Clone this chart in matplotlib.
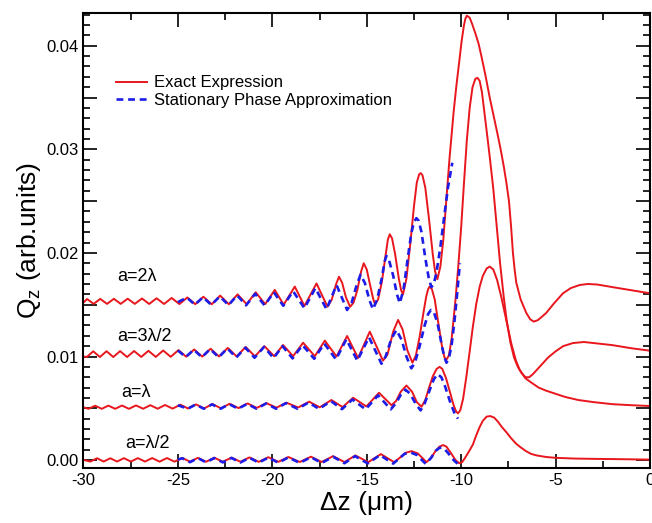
import numpy as np
import matplotlib
matplotlib.use('Agg')
import matplotlib.pyplot as plt
from matplotlib.ticker import MultipleLocator, FuncFormatter

plt.rcParams['font.family'] = ['Liberation Sans', 'DejaVu Sans']
plt.rcParams['mathtext.fontset'] = 'custom'
plt.rcParams['mathtext.rm'] = 'Liberation Sans'
plt.rcParams['mathtext.default'] = 'regular'
plt.rcParams['axes.unicode_minus'] = False

# (dz [um], Qz): exact expression (red)
exact_2lam = np.array([
    (-30.00, 0.01520), (-29.81, 0.01555), (-29.46, 0.01508), (-29.11, 0.01556),
    (-28.75, 0.01508), (-28.39, 0.01557), (-28.03, 0.01508), (-27.66, 0.01558),
    (-27.28, 0.01508), (-26.90, 0.01560), (-26.52, 0.01507), (-26.13, 0.01562),
    (-25.73, 0.01507), (-25.33, 0.01565), (-24.92, 0.01506), (-24.50, 0.01570),
    (-24.08, 0.01505), (-23.65, 0.01577), (-23.21, 0.01504), (-22.76, 0.01588),
    (-22.30, 0.01504), (-21.84, 0.01600), (-21.36, 0.01505), (-20.88, 0.01620),
    (-20.38, 0.01505), (-19.87, 0.01643), (-19.40, 0.01500), (-18.81, 0.01675),
    (-18.30, 0.01488), (-17.66, 0.01705), (-17.08, 0.01481), (-16.85, 0.01550),
    (-16.62, 0.01700), (-16.47, 0.01770), (-16.30, 0.01710), (-16.10, 0.01570),
    (-15.88, 0.01480), (-15.70, 0.01520), (-15.50, 0.01640), (-15.30, 0.01820),
    (-15.16, 0.01900), (-15.00, 0.01840), (-14.80, 0.01670), (-14.65, 0.01550),
    (-14.56, 0.01505), (-14.40, 0.01550), (-14.20, 0.01720), (-14.00, 0.01980),
    (-13.88, 0.02130), (-13.78, 0.02180), (-13.66, 0.02140), (-13.50, 0.01990),
    (-13.30, 0.01750), (-13.18, 0.01640), (-13.08, 0.01600), (-12.90, 0.01750),
    (-12.70, 0.02080), (-12.50, 0.02450), (-12.35, 0.02680), (-12.22, 0.02760),
    (-12.14, 0.02770), (-12.05, 0.02750), (-11.90, 0.02630), (-11.70, 0.02320),
    (-11.50, 0.01980), (-11.38, 0.01820), (-11.26, 0.01746), (-11.10, 0.01870),
    (-10.95, 0.02120), (-10.80, 0.02480), (-10.61, 0.02930), (-10.40, 0.03360),
    (-10.25, 0.03620), (-10.10, 0.03850), (-9.98, 0.04040), (-9.86, 0.04190),
    (-9.78, 0.04260), (-9.70, 0.04290), (-9.55, 0.04270), (-9.42, 0.04210),
    (-9.25, 0.04120), (-9.08, 0.04020), (-8.93, 0.03900), (-8.70, 0.03700),
    (-8.49, 0.03500), (-8.29, 0.03330), (-8.09, 0.03160), (-7.90, 0.02990),
    (-7.74, 0.02830), (-7.60, 0.02670), (-7.47, 0.02500), (-7.36, 0.02260),
    (-7.26, 0.02000), (-7.17, 0.01840), (-7.08, 0.01710), (-6.85, 0.01550),
    (-6.55, 0.01420), (-6.35, 0.01360), (-6.16, 0.01337), (-5.95, 0.01350),
    (-5.75, 0.01380), (-5.50, 0.01420), (-5.10, 0.01510), (-4.61, 0.01610),
    (-4.20, 0.01660), (-3.73, 0.01690), (-3.30, 0.01700), (-2.80, 0.01695),
    (-2.00, 0.01670), (-1.00, 0.01640), (0.00, 0.01610)])

exact_3lam2 = np.array([
    (-30.00, 0.01000), (-29.83, 0.00995), (-29.48, 0.01050), (-29.13, 0.00995),
    (-28.78, 0.01051), (-28.42, 0.00995), (-28.06, 0.01052), (-27.69, 0.00995),
    (-27.32, 0.01053), (-26.94, 0.00996), (-26.56, 0.01055), (-26.17, 0.00996),
    (-25.78, 0.01058), (-25.38, 0.00997), (-24.97, 0.01062), (-24.56, 0.00998),
    (-24.14, 0.01068), (-23.71, 0.00999), (-23.27, 0.01075), (-22.82, 0.01000),
    (-22.36, 0.01083), (-21.89, 0.01001), (-21.41, 0.01092), (-20.92, 0.01002),
    (-20.42, 0.01100), (-19.90, 0.01003), (-19.43, 0.01111), (-18.90, 0.01003),
    (-18.37, 0.01133), (-17.75, 0.01003), (-17.22, 0.01153), (-16.60, 0.01000),
    (-16.04, 0.01198), (-15.46, 0.00985), (-14.84, 0.01240), (-14.14, 0.00960),
    (-13.90, 0.01020), (-13.60, 0.01240), (-13.34, 0.01353), (-13.10, 0.01260),
    (-12.85, 0.01060), (-12.58, 0.00940), (-12.40, 0.01010), (-12.20, 0.01190),
    (-12.00, 0.01420), (-11.85, 0.01580), (-11.75, 0.01650), (-11.67, 0.01675),
    (-11.55, 0.01650), (-11.40, 0.01550), (-11.20, 0.01310), (-11.00, 0.01080),
    (-10.88, 0.00990), (-10.78, 0.00970), (-10.65, 0.01010), (-10.50, 0.01180),
    (-10.30, 0.01550), (-10.15, 0.01880), (-10.00, 0.02250), (-9.85, 0.02680),
    (-9.70, 0.03090), (-9.55, 0.03400), (-9.40, 0.03600), (-9.25, 0.03680),
    (-9.14, 0.03690), (-9.02, 0.03660), (-8.90, 0.03550), (-8.76, 0.03340),
    (-8.60, 0.03100), (-8.49, 0.02930), (-8.30, 0.02620), (-8.10, 0.02220),
    (-7.94, 0.01900), (-7.75, 0.01580), (-7.60, 0.01360), (-7.40, 0.01140),
    (-7.20, 0.00990), (-7.00, 0.00900), (-6.80, 0.00840), (-6.60, 0.00800),
    (-6.40, 0.00800), (-6.20, 0.00830), (-6.00, 0.00870), (-5.70, 0.00930),
    (-5.40, 0.00990), (-5.00, 0.01050), (-4.60, 0.01100), (-4.08, 0.01130),
    (-3.50, 0.01140), (-3.00, 0.01130), (-2.00, 0.01110), (-1.00, 0.01080),
    (0.00, 0.01056)])

exact_lam = np.array([
    (-30.00, 0.00510), (-29.73, 0.00495), (-29.38, 0.00525), (-29.03, 0.00495),
    (-28.68, 0.00526), (-28.32, 0.00495), (-27.96, 0.00527), (-27.59, 0.00495),
    (-27.22, 0.00528), (-26.84, 0.00496), (-26.46, 0.00530), (-26.07, 0.00496),
    (-25.68, 0.00532), (-25.28, 0.00497), (-24.87, 0.00535), (-24.46, 0.00498),
    (-24.04, 0.00538), (-23.61, 0.00499), (-23.17, 0.00541), (-22.72, 0.00500),
    (-22.26, 0.00544), (-21.79, 0.00502), (-21.31, 0.00547), (-20.82, 0.00504),
    (-20.31, 0.00550), (-19.78, 0.00506), (-19.25, 0.00554), (-18.63, 0.00508),
    (-18.05, 0.00564), (-17.49, 0.00510), (-16.87, 0.00580), (-16.28, 0.00512),
    (-15.72, 0.00602), (-15.02, 0.00518), (-14.35, 0.00650), (-13.69, 0.00530),
    (-13.45, 0.00570), (-13.20, 0.00660), (-12.90, 0.00720), (-12.60, 0.00660),
    (-12.35, 0.00560), (-12.10, 0.00515), (-11.90, 0.00580), (-11.70, 0.00700),
    (-11.50, 0.00810), (-11.30, 0.00880), (-11.14, 0.00900), (-11.00, 0.00880),
    (-10.80, 0.00790), (-10.60, 0.00660), (-10.40, 0.00530), (-10.27, 0.00470),
    (-10.17, 0.00451), (-10.05, 0.00480), (-9.90, 0.00590), (-9.73, 0.00800),
    (-9.55, 0.01050), (-9.38, 0.01290), (-9.20, 0.01510), (-9.02, 0.01675),
    (-8.85, 0.01780), (-8.65, 0.01850), (-8.49, 0.01868), (-8.30, 0.01840),
    (-8.10, 0.01740), (-7.87, 0.01570), (-7.60, 0.01340), (-7.34, 0.01120),
    (-7.10, 0.00960), (-6.90, 0.00870), (-6.60, 0.00790), (-6.30, 0.00750),
    (-5.90, 0.00700), (-5.50, 0.00670), (-5.00, 0.00640), (-4.50, 0.00610),
    (-3.80, 0.00580), (-3.00, 0.00560), (-2.00, 0.00540), (-1.00, 0.00530),
    (0.00, 0.00522)])

exact_lam2 = np.array([
    (-30.00, 0.00002), (-29.63, -0.00014), (-29.28, 0.00018), (-28.93, -0.00014),
    (-28.58, 0.00018), (-28.22, -0.00014), (-27.86, 0.00019), (-27.49, -0.00014),
    (-27.12, 0.00019), (-26.74, -0.00014), (-26.36, 0.00020), (-25.97, -0.00015),
    (-25.58, 0.00020), (-25.18, -0.00015), (-24.77, 0.00021), (-24.36, -0.00015),
    (-23.94, 0.00022), (-23.51, -0.00016), (-23.07, 0.00023), (-22.62, -0.00016),
    (-22.16, 0.00024), (-21.69, -0.00016), (-21.21, 0.00026), (-20.72, -0.00017),
    (-20.21, 0.00028), (-19.68, -0.00017), (-19.15, 0.00030), (-18.55, -0.00018),
    (-17.95, 0.00033), (-17.39, -0.00018), (-16.78, 0.00038), (-16.18, -0.00019),
    (-15.60, 0.00045), (-14.92, -0.00020), (-14.25, 0.00058), (-13.55, -0.00020),
    (-13.20, 0.00030), (-12.95, 0.00070), (-12.63, 0.00087), (-12.30, 0.00065),
    (-12.05, 0.00020), (-11.84, -0.00020), (-11.60, 0.00020), (-11.35, 0.00090),
    (-11.15, 0.00130), (-10.96, 0.00145), (-10.78, 0.00130), (-10.55, 0.00070),
    (-10.30, 0.00000), (-10.10, -0.00030), (-9.95, -0.00020), (-9.80, 0.00020),
    (-9.60, 0.00080), (-9.38, 0.00150), (-9.20, 0.00240), (-9.02, 0.00320),
    (-8.85, 0.00380), (-8.65, 0.00420), (-8.46, 0.00425), (-8.25, 0.00410),
    (-8.05, 0.00370), (-7.85, 0.00320), (-7.61, 0.00270), (-7.35, 0.00210),
    (-7.10, 0.00160), (-6.90, 0.00130), (-6.60, 0.00090), (-6.30, 0.00060),
    (-6.00, 0.00045), (-5.50, 0.00030), (-5.00, 0.00022), (-4.00, 0.00015),
    (-3.00, 0.00012), (-2.00, 0.00010), (0.00, 0.00005)])

# stationary phase approximation (blue dashed), only from -25 on
approx_2lam = np.array([
    (-25.00, 0.01525), (-24.52, 0.01568), (-24.10, 0.01500), (-23.67, 0.01572),
    (-23.23, 0.01498), (-22.78, 0.01580), (-22.32, 0.01496), (-21.86, 0.01590),
    (-21.39, 0.01494), (-20.91, 0.01605), (-20.41, 0.01494), (-19.92, 0.01620),
    (-19.42, 0.01490), (-18.90, 0.01630), (-18.30, 0.01466), (-17.72, 0.01660),
    (-17.13, 0.01456), (-16.60, 0.01690), (-16.04, 0.01449), (-15.80, 0.01520),
    (-15.55, 0.01680), (-15.33, 0.01790), (-15.10, 0.01710), (-14.85, 0.01540),
    (-14.67, 0.01456), (-14.45, 0.01550), (-14.20, 0.01760), (-14.05, 0.01920),
    (-13.96, 0.01970), (-13.85, 0.01950), (-13.60, 0.01780), (-13.40, 0.01600),
    (-13.25, 0.01514), (-13.05, 0.01650), (-12.85, 0.01920), (-12.65, 0.02180),
    (-12.50, 0.02300), (-12.37, 0.02335), (-12.25, 0.02310), (-12.10, 0.02200),
    (-11.90, 0.01950), (-11.72, 0.01760), (-11.58, 0.01669), (-11.45, 0.01700),
    (-11.30, 0.01820), (-11.10, 0.02060), (-10.90, 0.02350), (-10.70, 0.02630),
    (-10.47, 0.02870)])

approx_3lam2 = np.array([
    (-25.00, 0.01058), (-24.58, 0.00995), (-24.16, 0.01066), (-23.73, 0.00993),
    (-23.29, 0.01072), (-22.84, 0.00992), (-22.38, 0.01078), (-21.91, 0.00990),
    (-21.43, 0.01085), (-20.94, 0.00988), (-20.44, 0.01092), (-19.93, 0.00985),
    (-19.46, 0.01100), (-18.93, 0.00982), (-18.40, 0.01110), (-17.78, 0.00978),
    (-17.25, 0.01125), (-16.63, 0.00972), (-16.08, 0.01166), (-15.50, 0.00960),
    (-14.88, 0.01186), (-14.22, 0.00930), (-14.00, 0.01000), (-13.70, 0.01170),
    (-13.43, 0.01256), (-13.15, 0.01160), (-12.90, 0.01000), (-12.64, 0.00886),
    (-12.45, 0.00940), (-12.20, 0.01100), (-11.95, 0.01290), (-11.75, 0.01410),
    (-11.60, 0.01450), (-11.45, 0.01430), (-11.25, 0.01320), (-11.05, 0.01130),
    (-10.90, 0.01000), (-10.78, 0.00940), (-10.65, 0.00980), (-10.50, 0.01120),
    (-10.35, 0.01350), (-10.20, 0.01630), (-10.07, 0.01900)])

approx_lam = np.array([
    (-25.00, 0.00530), (-24.48, 0.00496), (-24.06, 0.00536), (-23.63, 0.00496),
    (-23.19, 0.00538), (-22.74, 0.00496), (-22.28, 0.00540), (-21.81, 0.00496),
    (-21.33, 0.00543), (-20.84, 0.00496), (-20.33, 0.00546), (-19.80, 0.00496),
    (-19.28, 0.00550), (-18.66, 0.00495), (-18.08, 0.00556), (-17.52, 0.00494),
    (-16.90, 0.00570), (-16.31, 0.00492), (-15.76, 0.00585), (-15.06, 0.00490),
    (-14.40, 0.00625), (-13.73, 0.00490), (-13.45, 0.00550), (-13.20, 0.00630),
    (-12.95, 0.00680), (-12.70, 0.00640), (-12.40, 0.00540), (-12.15, 0.00480),
    (-11.95, 0.00540), (-11.70, 0.00660), (-11.45, 0.00780), (-11.25, 0.00830),
    (-11.05, 0.00800), (-10.85, 0.00710), (-10.60, 0.00570), (-10.35, 0.00450),
    (-10.17, 0.00400)])

approx_lam2 = np.array([
    (-25.00, 0.00005), (-24.77, 0.00018), (-24.36, -0.00020), (-23.94, 0.00019),
    (-23.51, -0.00021), (-23.07, 0.00020), (-22.62, -0.00022), (-22.16, 0.00021),
    (-21.69, -0.00023), (-21.21, 0.00022), (-20.72, -0.00024), (-20.21, 0.00024),
    (-19.68, -0.00025), (-19.15, 0.00026), (-18.55, -0.00027), (-17.95, 0.00028),
    (-17.39, -0.00028), (-16.78, 0.00032), (-16.18, -0.00030), (-15.62, 0.00038),
    (-14.95, -0.00032), (-14.30, 0.00048), (-13.60, -0.00034), (-13.00, 0.00060),
    (-12.70, 0.00075), (-12.35, 0.00050), (-11.88, -0.00036), (-11.60, 0.00020),
    (-11.35, 0.00090), (-11.15, 0.00118), (-11.05, 0.00120), (-10.90, 0.00110),
    (-10.70, 0.00070), (-10.40, 0.00000), (-10.10, -0.00050)])

curve_labels = ['a=2\u03bb', 'a=3\u03bb/2', 'a=\u03bb', 'a=\u03bb/2']
label_pos = [(-28.2, 0.0177), (-28.2, 0.0119), (-28.0, 0.0065), (-27.8, 0.0016)]

red = '#e8161d'
blue = '#1c1ce8'

fig = plt.figure(figsize=(6.52, 5.23), dpi=100)
ax = fig.add_axes([0.128, 0.105, 0.869, 0.871])

exact = [exact_2lam, exact_3lam2, exact_lam, exact_lam2]
approx = [approx_2lam, approx_3lam2, approx_lam, approx_lam2]
for i, c in enumerate(exact):
    ax.plot(c[:, 0], c[:, 1], color=red, lw=1.4, solid_joinstyle='round',
            label='Exact Expression' if i == 0 else None)
for i, c in enumerate(approx):
    ax.plot(c[:, 0], c[:, 1], color=blue, lw=1.9, ls=(0, (2.6, 1.8)),
            dash_joinstyle='round',
            label='Stationary Phase Approximation' if i == 0 else None)

for txt, (x, y) in zip(curve_labels, label_pos):
    ax.text(x, y, txt, fontsize=13, va='center', ha='left')

ax.set_xlim(-30, 0)
ax.set_ylim(-0.00077, 0.0432)
ax.xaxis.set_major_locator(MultipleLocator(5))
ax.xaxis.set_minor_locator(MultipleLocator(2.5))
ax.yaxis.set_major_locator(MultipleLocator(0.005))
ax.yaxis.set_minor_locator(MultipleLocator(0.001))
ax.yaxis.set_major_formatter(FuncFormatter(
    lambda v, p: '%.2f' % v if abs(v / 0.01 - round(v / 0.01)) < 1e-6 else ''))
ax.tick_params(which='both', direction='in', top=True, right=True,
               labelsize=12, width=1.2)
ax.tick_params(which='major', length=10)
ax.tick_params(which='minor', length=5)
for s in ax.spines.values():
    s.set_linewidth(1.5)

ax.set_xlabel('\u0394z (\u03bcm)', fontsize=19, labelpad=2)
ax.set_ylabel(r'Q$_z$ (arb.units)', fontsize=19, labelpad=2)

ax.legend(loc='upper left', bbox_to_anchor=(0.057, 0.862), frameon=False,
          fontsize=12, handlelength=1.9, handletextpad=0.4, labelspacing=0.15,
          borderpad=0, borderaxespad=0)

fig.savefig('out.png', dpi=100)
